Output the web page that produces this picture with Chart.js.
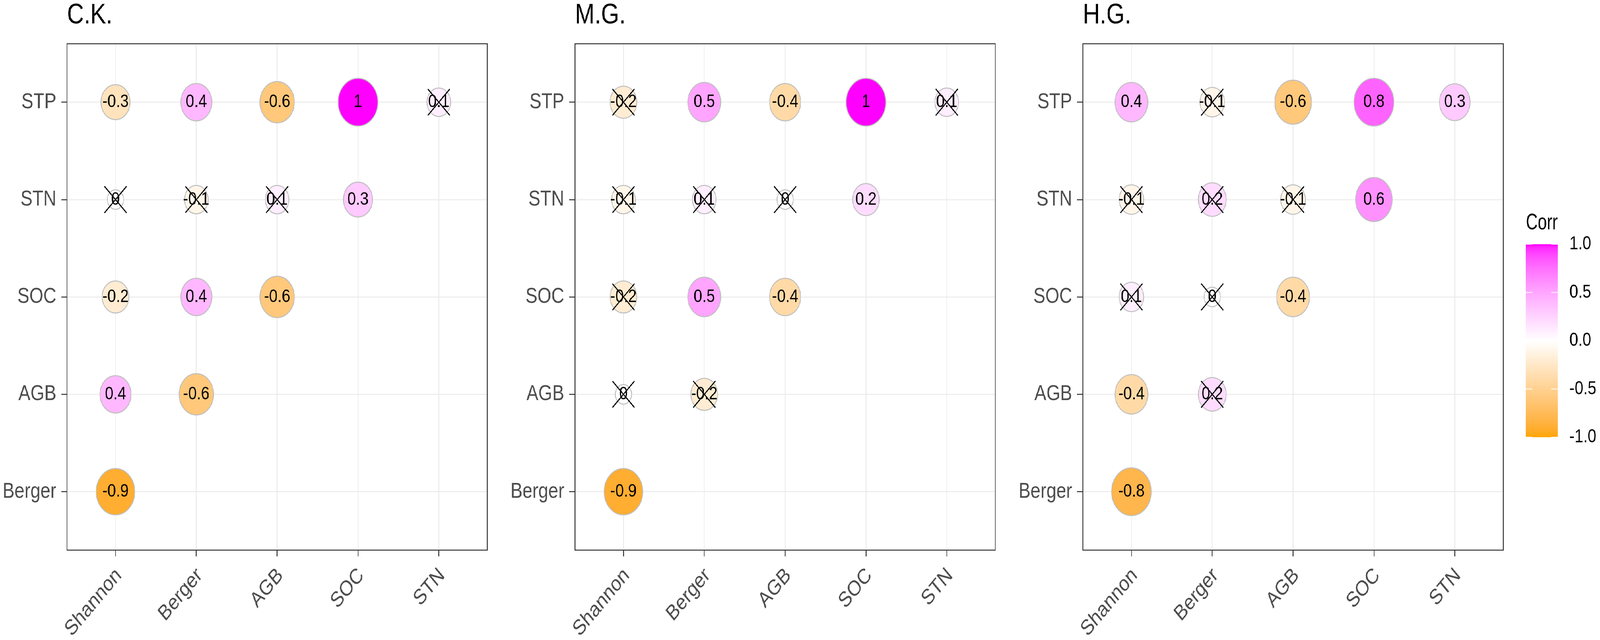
<!DOCTYPE html>
<html>
<head>
<meta charset="utf-8">
<title>Correlation panels</title>
<script src="https://cdn.jsdelivr.net/npm/chart.js@4.4.1/dist/chart.umd.min.js"></script>
<style>
  html, body { margin: 0; padding: 0; background: #fff; overflow: hidden; }
  #outer { position: relative; overflow: hidden; background: #fff; }
  #wrap { position: absolute; left: 0; top: 0; width: 4920px; height: 1638px; background: #fff; transform-origin: 0 0; }
  canvas { position: absolute; top: 0; }
</style>
</head>
<body>
<div id="outer">
  <div id="wrap">
    <canvas id="ck" width="1562" height="1638" style="left:0px"></canvas>
    <canvas id="mg" width="1562" height="1638" style="left:1562px"></canvas>
    <canvas id="hg" width="1562" height="1638" style="left:3124px"></canvas>
    <canvas id="legend" width="228" height="1638" style="left:4692px"></canvas>
  </div>
</div>
<script>
// axis categories
const xLabels = ['Shannon', 'Berger', 'AGB', 'SOC', 'STN'];
const yLabels = ['STP', 'STN', 'SOC', 'AGB', 'Berger'];
const panelTitles = ['C.K.', 'M.G.', 'H.G.'];

// correlations: one row per yLabels entry, columns follow xLabels (lower triangle)
const corrCK = [
    [-0.3, 0.4, -0.6, 1, 0.1],
    [0, -0.1, 0.1, 0.3],
    [-0.2, 0.4, -0.6],
    [0.4, -0.6],
    [-0.9]
];
const corrMG = [
    [-0.2, 0.5, -0.4, 1, 0.1],
    [-0.1, 0.1, 0, 0.2],
    [-0.2, 0.5, -0.4],
    [0, -0.2],
    [-0.9]
];
const corrHG = [
    [0.4, -0.1, -0.6, 0.8, 0.3],
    [-0.1, 0.2, -0.1, 0.6],
    [0.1, 0, -0.4],
    [-0.4, 0.2],
    [-0.8]
];

// 1 = not significant (crossed out)
const insigCK = [
    [0, 0, 0, 0, 1],
    [1, 1, 1, 0],
    [0, 0, 0],
    [0, 0],
    [0]
];
const insigMG = [
    [1, 0, 0, 0, 1],
    [1, 1, 1, 0],
    [1, 0, 0],
    [1, 1],
    [0]
];
const insigHG = [
    [0, 1, 0, 0, 0],
    [1, 1, 1, 0],
    [1, 1, 0],
    [0, 1],
    [0]
];

// colour bar ticks
const legendTicks = [-1, -0.5, 0, 0.5, 1];

// drawn at 4920x1638 and stretched onto whatever window we really get
// (the browser caps the width), so every part keeps its place in the frame
const DESIGN_W = 4920, DESIGN_H = 1638;
const sx = window.innerWidth / DESIGN_W;
const sy = window.innerHeight / DESIGN_H;
const outer = document.getElementById('outer');
outer.style.width = window.innerWidth + 'px';
outer.style.height = window.innerHeight + 'px';
document.getElementById('wrap').style.transform = 'scale(' + sx + ',' + sy + ')';

const FONT = '"Liberation Sans", Arial, Helvetica, sans-serif';
Chart.defaults.font.family = FONT;

// --- colour scale: orange - white - magenta, interpolated in CIE Lab like ggplot ---
function hexToLab(hex) {
    const c = [1, 3, 5].map(i => parseInt(hex.substr(i, 2), 16) / 255)
        .map(v => v <= 0.04045 ? v / 12.92 : Math.pow((v + 0.055) / 1.055, 2.4));
    const X = (0.4124564 * c[0] + 0.3575761 * c[1] + 0.1804375 * c[2]) / 0.95047;
    const Y = (0.2126729 * c[0] + 0.7151522 * c[1] + 0.0721750 * c[2]);
    const Z = (0.0193339 * c[0] + 0.1191920 * c[1] + 0.9503041 * c[2]) / 1.08883;
    const f = t => t > 0.008856 ? Math.cbrt(t) : 7.787 * t + 16 / 116;
    return [116 * f(Y) - 16, 500 * (f(X) - f(Y)), 200 * (f(Y) - f(Z))];
}

function labToRgb(lab) {
    const fy = (lab[0] + 16) / 116;
    const fx = fy + lab[1] / 500;
    const fz = fy - lab[2] / 200;
    const inv = f => (f * f * f > 0.008856) ? f * f * f : (f - 16 / 116) / 7.787;
    const X = inv(fx) * 0.95047, Y = inv(fy), Z = inv(fz) * 1.08883;
    const lin = [
        3.2404542 * X - 1.5371385 * Y - 0.4985314 * Z,
        -0.9692660 * X + 1.8760108 * Y + 0.0415560 * Z,
        0.0556434 * X - 0.2040259 * Y + 1.0572252 * Z
    ];
    const rgb = lin.map(v => {
        const g = v <= 0.0031308 ? 12.92 * v : 1.055 * Math.pow(v, 1 / 2.4) - 0.055;
        return Math.round(Math.min(1, Math.max(0, g)) * 255);
    });
    return 'rgb(' + rgb.join(',') + ')';
}

const lowLab = hexToLab('#FFA500');
const midLab = hexToLab('#FFFFFF');
const highLab = hexToLab('#FF00FF');

function corrColor(v) {
    const t = Math.min(Math.abs(v), 1);
    const end = v < 0 ? lowLab : highLab;
    return labToRgb(midLab.map((m, i) => m + (end[i] - m) * t));
}

// value labels drawn right after the circles, before the crosses
const cellText = {
    id: 'cellText',
    afterDatasetDraw(chart, args) {
        if (args.index !== 1) return;
        const ctx = chart.ctx;
        const points = chart.data.datasets[1].data;
        ctx.save();
        ctx.font = '47px ' + FONT;
        ctx.fillStyle = '#000000';
        ctx.textAlign = 'center';
        ctx.textBaseline = 'middle';
        args.meta.data.forEach((el, i) => {
            ctx.fillText(String(points[i].v), el.x, el.y);
        });
        ctx.restore();
    }
};

// panel border (theme_bw)
const panelFrame = {
    id: 'panelFrame',
    beforeDatasetsDraw(chart) {
        const a = chart.chartArea;
        const ctx = chart.ctx;
        ctx.save();
        ctx.strokeStyle = '#333333';
        ctx.lineWidth = 2.5;
        ctx.strokeRect(a.left, a.top, a.right - a.left, a.bottom - a.top);
        ctx.restore();
    }
};

function makePanel(canvasId, title, corr, insig) {
    const circles = [];
    const crosses = [];
    corr.forEach((row, r) => {
        row.forEach((v, c) => {
            circles.push({ x: c, y: r, v: v });
            if (insig[r][c]) crosses.push({ x: c, y: r });
        });
    });

    // size scale: area proportional, rescaled over the panel's range of |r|
    const absVals = circles.map(p => Math.abs(p.v));
    const lo = Math.min(...absVals);
    const hi = Math.max(...absVals);
    const radiusFor = v => {
        const s = hi > lo ? (Math.abs(v) - lo) / (hi - lo) : 1;
        return 26 + 36 * Math.sqrt(s) - 1;
    };

    const tickFont = { family: FONT, size: 55 };

    new Chart(document.getElementById(canvasId), {
        type: 'scatter',
        data: {
            datasets: [
                {
                    data: crosses,
                    pointStyle: 'crossRot',
                    pointRadius: 48,
                    pointBorderColor: '#000000',
                    pointBorderWidth: 3,
                    pointBackgroundColor: 'rgba(0,0,0,0)'
                },
                {
                    data: circles,
                    pointStyle: 'circle',
                    pointRadius: ctx => ctx.raw ? radiusFor(ctx.raw.v) : 0,
                    pointBackgroundColor: ctx => ctx.raw ? corrColor(ctx.raw.v) : '#fff',
                    pointBorderColor: '#BEBEBE',
                    pointBorderWidth: 2.5
                }
            ]
        },
        options: {
            responsive: false,
            devicePixelRatio: 1,
            animation: false,
            events: [],
            layout: { padding: { left: 0, right: 60, top: 0, bottom: 0 } },
            plugins: {
                legend: { display: false },
                tooltip: { enabled: false },
                title: {
                    display: true,
                    text: title,
                    align: 'start',
                    fullSize: false,
                    color: '#000000',
                    font: { family: FONT, size: 72, weight: 'normal', lineHeight: 1 },
                    padding: { top: 4, bottom: 36 }
                }
            },
            scales: {
                x: {
                    type: 'linear',
                    min: -0.6,
                    max: 4.6,
                    afterBuildTicks: s => { s.ticks = xLabels.map((_, i) => ({ value: i })); },
                    afterFit: s => { s.height = 230; },
                    border: { display: false },
                    grid: { color: '#EBEBEB', lineWidth: 2.5, tickColor: '#333333', tickWidth: 2.5, tickLength: 16 },
                    ticks: {
                        autoSkip: false,
                        minRotation: 45,
                        maxRotation: 45,
                        padding: 17,
                        labelOffset: 10,
                        color: '#4D4D4D',
                        font: tickFont,
                        callback: v => xLabels[v]
                    }
                },
                y: {
                    type: 'linear',
                    reverse: true,
                    min: -0.6,
                    max: 4.6,
                    afterBuildTicks: s => { s.ticks = yLabels.map((_, i) => ({ value: i })); },
                    afterFit: s => { s.width = 206; },
                    border: { display: false },
                    grid: { color: '#EBEBEB', lineWidth: 2.5, tickColor: '#333333', tickWidth: 2.5, tickLength: 18 },
                    ticks: {
                        autoSkip: false,
                        padding: 15,
                        color: '#4D4D4D',
                        font: tickFont,
                        callback: v => yLabels[v]
                    }
                }
            }
        },
        plugins: [panelFrame, cellText]
    });
}

makePanel('ck', panelTitles[0], corrCK, insigCK);
makePanel('mg', panelTitles[1], corrMG, insigMG);
makePanel('hg', panelTitles[2], corrHG, insigHG);

// colour bar legend
const colorbarTicks = {
    id: 'colorbarTicks',
    afterDatasetsDraw(chart) {
        const ys = chart.scales.y;
        const a = chart.chartArea;
        const ctx = chart.ctx;
        ctx.save();
        ctx.strokeStyle = '#FFFFFF';
        ctx.lineWidth = 2;
        legendTicks.forEach(v => {
            const y = ys.getPixelForValue(v);
            ctx.beginPath();
            ctx.moveTo(a.left, y);
            ctx.lineTo(a.left + 20, y);
            ctx.moveTo(a.right - 20, y);
            ctx.lineTo(a.right, y);
            ctx.stroke();
        });
        ctx.restore();
    }
};

new Chart(document.getElementById('legend'), {
    type: 'bar',
    data: {
        labels: [''],
        datasets: [{
            data: [[legendTicks[0], legendTicks[legendTicks.length - 1]]],
            borderWidth: 0,
            barPercentage: 1,
            categoryPercentage: 1,
            backgroundColor: ctx => {
                const chart = ctx.chart;
                const ys = chart.scales.y;
                if (!chart.chartArea || !ys) return '#ffffff';
                const lowV = legendTicks[0];
                const highV = legendTicks[legendTicks.length - 1];
                const g = chart.ctx.createLinearGradient(0, ys.getPixelForValue(lowV), 0, ys.getPixelForValue(highV));
                for (let i = 0; i <= 60; i++) {
                    const t = i / 60;
                    g.addColorStop(t, corrColor(lowV + (highV - lowV) * t));
                }
                return g;
            }
        }]
    },
    options: {
        responsive: false,
        devicePixelRatio: 1,
        animation: false,
        events: [],
        layout: { padding: { left: 0, right: 0, top: 534, bottom: 519 } },
        plugins: {
            legend: { display: false },
            tooltip: { enabled: false },
            title: {
                display: true,
                text: 'Corr',
                align: 'start',
                fullSize: false,
                color: '#000000',
                font: { family: FONT, size: 58, weight: 'normal', lineHeight: 1 },
                padding: { top: 8, bottom: 25 }
            }
        },
        scales: {
            x: { display: false },
            y: {
                position: 'right',
                min: legendTicks[0],
                max: legendTicks[legendTicks.length - 1],
                afterBuildTicks: s => { s.ticks = legendTicks.map(v => ({ value: v })); },
                afterFit: s => { s.width = 130; },
                border: { display: false },
                grid: { display: false, drawTicks: false },
                ticks: {
                    padding: 36,
                    color: '#000000',
                    font: { family: FONT, size: 48 },
                    callback: v => v.toFixed(1)
                }
            }
        }
    },
    plugins: [colorbarTicks]
});
</script>
</body>
</html>
